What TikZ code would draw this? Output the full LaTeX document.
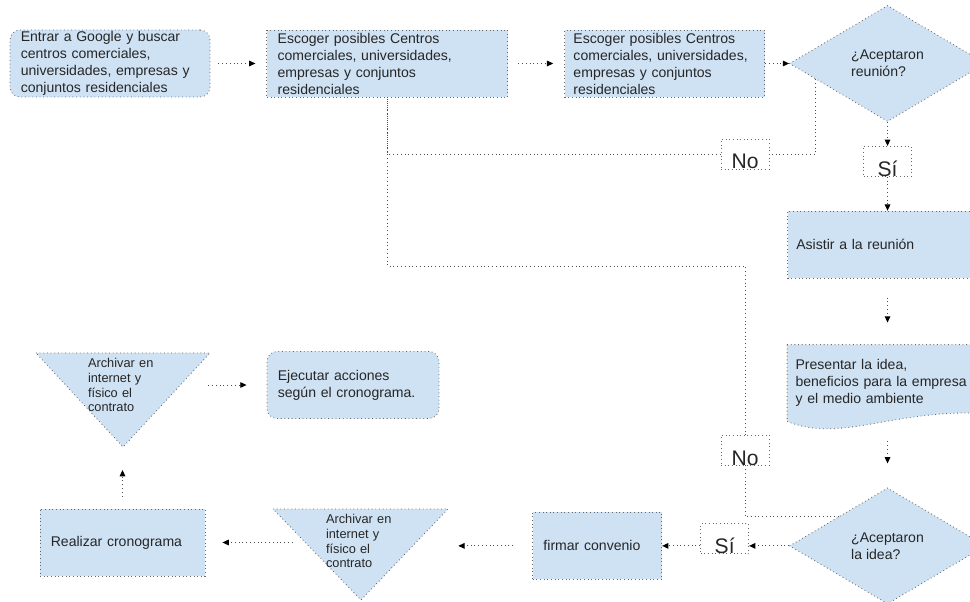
\documentclass[tikz,border=0pt]{standalone}
\usepackage{fontspec}
\setmainfont{Liberation Sans}
\usetikzlibrary{shapes.geometric, arrows.meta, positioning, backgrounds, calc}
\definecolor{boxblue}{HTML}{CFE2F3}
\definecolor{edgegray}{HTML}{666666}
\definecolor{linegray}{HTML}{4D4D4D}
\definecolor{textgray}{HTML}{262626}
\tikzset{
    process/.style={rectangle, draw=edgegray, dotted, line width=0.6pt, fill=boxblue, text=textgray, font=\fontsize{10pt}{12.1pt}\selectfont, align=left, inner xsep=0.27cm, inner ysep=0pt, minimum height=1.675cm},
    roundbox/.style={process, rounded corners=0.25cm},
    decision/.style={diamond, draw=edgegray, dotted, line width=0.6pt, fill=boxblue, text=textgray, font=\fontsize{10pt}{12.1pt}\selectfont, align=left, inner sep=0pt, minimum width=4.9cm, minimum height=2.9cm},
    answer/.style={rectangle, draw=edgegray, dotted, line width=0.6pt, text=textgray, font=\fontsize{15pt}{15pt}\selectfont, inner sep=0pt, minimum width=1.2cm, text height=0.75cm, text depth=0pt},
    archtext/.style={text=textgray, font=\fontsize{9.1pt}{10.6pt}\selectfont, align=left, text width=1.7cm, inner sep=0pt},
    shapefill/.style={draw=edgegray, dotted, line width=0.6pt, fill=boxblue},
    arrow/.style={-{Triangle[length=4.5pt,width=4pt,color=black]}, draw=linegray, dotted, line width=0.7pt},
    link/.style={draw=linegray, dotted, line width=0.7pt}
}

\begin{document}
\begin{tikzpicture}
\useasboundingbox (0,0) rectangle (24.25,-15.05);

% Top row
\node (buscar) [roundbox, text width=4.46cm] at (2.75,-1.5875) {Entrar a Google y buscar\\centros comerciales,\\universidades, empresas y\\conjuntos residenciales};
\node (escoger) [process, text width=5.485cm, right=1.4cm of buscar] {Escoger posibles Centros\\comerciales, universidades,\\empresas y conjuntos\\residenciales};
\node (escoger2) [process, inner xsep=0.22cm, text width=4.56cm, right=1.4cm of escoger] {Escoger posibles Centros\\comerciales, universidades,\\empresas y conjuntos\\residenciales};
\node (reunion) [decision, right=0.6cm of escoger2] {¿Aceptaron\\reunión?};

% Right column
\node (si1) [answer, below=0.6cm of reunion] {Sí};
\node (asistir) [process, inner xsep=0.22cm, text width=4.56cm, below=0.85cm of si1] {Asistir a la reunión};
\node (presentar) [process, draw=none, fill=none, inner xsep=0.2cm, text width=4.6cm, minimum height=1.9cm, below=1.65cm of asistir] {Presentar la idea,\\beneficios para la empresa\\y el medio ambiente};
\node (idea) [decision, below=1.65cm of presentar] {¿Aceptaron\\la idea?};

% No labels
\node (no1) [answer] at (18.625,-3.85) {No};
\node (no2) [answer] at (18.625,-11.25) {No};
\coordinate (back) at (18.625,-6.65);

% Bottom rows
\node (si2) [answer, left=1cm of idea, yshift=0.175cm] {Sí};
\node (firmar) [process, text width=2.685cm, left=3.175cm of idea] {firmar convenio};
\node (archivar2) [archtext] at (9.0,-13.525) {Archivar en\\internet y\\físico el\\contrato};
\node (crono) [process, text width=3.585cm] at (3.0625,-13.5625) {Realizar cronograma};
\node (archivar1) [archtext] at (3.05,-9.625) {Archivar en\\internet y\\físico el\\contrato};
\node (ejecutar) [roundbox, text width=3.76cm] at (8.825,-9.625) {Ejecutar acciones\\según el cronograma.};
\coordinate (archivar1tip) at ($(archivar1.center)+(0.025,-1.55)$);

% Shapes behind the text
\begin{scope}[on background layer]
\path[shapefill] ($(archivar1.center)+(-2.15,0.8)$) -- ($(archivar1.center)+(2.2,0.8)$) -- (archivar1tip) -- cycle;
\path[shapefill] ($(archivar2.center)+(-2.175,0.8)$) -- ($(archivar2.center)+(2.2,0.8)$) -- ($(archivar2.center)+(0.025,-1.475)$) -- cycle;
\path[shapefill] (presentar.north west) -- (presentar.north east) -- ([yshift=0.2cm]presentar.south east) .. controls +(-2.4,0.125) and +(1.375,-0.55) .. (presentar.south west) -- cycle;
\end{scope}

% Arrows
\draw [arrow, shorten <=0.2cm, shorten >=0.275cm] (buscar) -- (escoger);
\draw [arrow, shorten <=0.25cm, shorten >=0.275cm] (escoger) -- (escoger2);
\draw [arrow] (escoger2) -- (reunion);
\draw [arrow] (reunion) -- (si1);
\draw [arrow] (si1) -- (asistir);
\draw [arrow, shorten <=0.475cm, shorten >=0.55cm] (asistir) -- (presentar);
\draw [arrow, shorten <=0.5cm, shorten >=0.6cm] (presentar) -- (idea);
\draw [arrow] (idea.west) -- (idea.west -| si2.east);
\draw [arrow] (si2.west |- idea.west) -- (idea.west -| firmar.east);
\draw [arrow, shorten <=0.475cm, shorten >=1.6cm] (firmar.west) -- (firmar.west -| archivar2.east);
\draw [arrow, shorten <=0.825cm, shorten >=0.425cm] (archivar2.west |- crono.east) -- (crono.east);
\draw [arrow, shorten <=0.3cm, shorten >=0.575cm] (crono.north) -- (crono.north |- archivar1tip);
\draw [arrow, shorten <=1.3cm, shorten >=0.5cm] (archivar1.east |- ejecutar.west) -- (ejecutar.west);

% Loops back
\draw [link] ($(reunion.west)!0.27!(reunion.south)$) |- (no1);
\draw [link] (no1) -| (escoger);
\draw [link] (escoger) |- (back) -- (no2);
\draw [link] (no2) |- (idea.north west);

\end{tikzpicture}
\end{document}
